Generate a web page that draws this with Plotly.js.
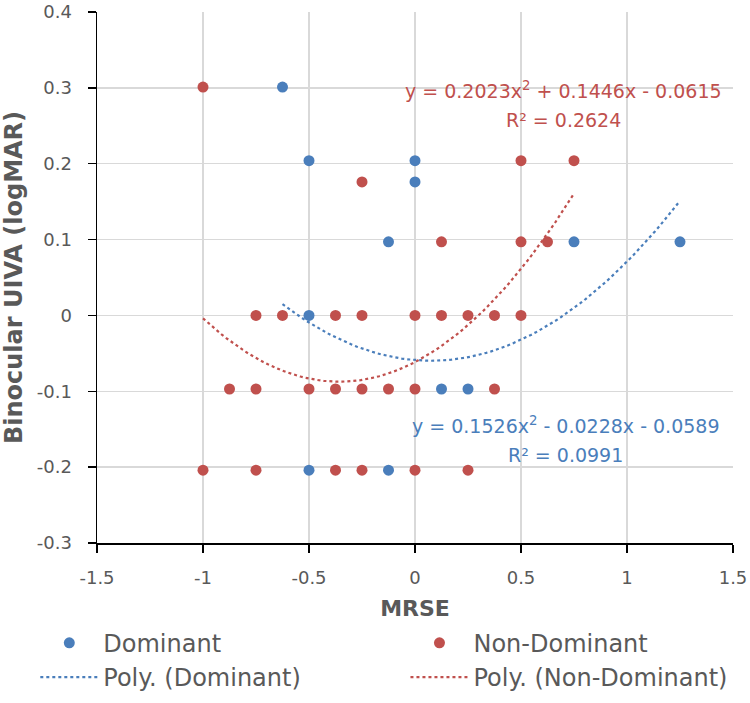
<!DOCTYPE html>
<html>
<head>
<meta charset="utf-8">
<script src="https://cdn.plot.ly/plotly-3.0.1.min.js"></script>
<style>html,body{margin:0;padding:0;background:#fff}#chart{width:750px;height:703px}</style>
</head>
<body>
<div id="chart"></div>
<script>
// Dominant eye data (MRSE, binocular UIVA logMAR)
const domX = [-0.625, -0.5, 0, 0, -0.125, 0.75, 1.25, -0.5, 0.125, 0.25, -0.5, -0.125];
const domY = [0.301, 0.204, 0.204, 0.176, 0.097, 0.097, 0.097, 0, -0.097, -0.097, -0.204, -0.204];
// Non-dominant eye data
const nonX = [-1, 0.5, 0.75, -0.25, 0.125, 0.5, 0.625,
  -0.75, -0.625, -0.375, -0.25, 0, 0.125, 0.25, 0.375, 0.5,
  -0.875, -0.75, -0.5, -0.375, -0.25, -0.125, 0, 0.375,
  -1, -0.75, -0.375, -0.25, 0, 0.25];
const nonY = [0.301, 0.204, 0.204, 0.176, 0.097, 0.097, 0.097,
  0, 0, 0, 0, 0, 0, 0, 0, 0,
  -0.097, -0.097, -0.097, -0.097, -0.097, -0.097, -0.097, -0.097,
  -0.204, -0.204, -0.204, -0.204, -0.204, -0.204];
// Trendline coefficients as printed on the chart [a, b, c] for y = a x^2 + b x + c
const domCoef = [0.1526, -0.0228, -0.0589];
const nonCoef = [0.2023, 0.1446, -0.0615];
const domR2 = "0.0991";
const nonR2 = "0.2624";
// Axis ticks
const xTickVals = [-1.5, -1, -0.5, 0, 0.5, 1, 1.5];
const xTickText = ["-1.5", "-1", "-0.5", "0", "0.5", "1", "1.5"];
const yTickVals = [-0.3, -0.2, -0.1, 0, 0.1, 0.2, 0.3, 0.4];
const yTickText = ["-0.3", "-0.2", "-0.1", "0", "0.1", "0.2", "0.3", "0.4"];

const BLUE = "#4a7ebb";
const RED = "#c0504d";
const GREY = "#595959";
const FONT = "'DejaVu Sans', sans-serif";

function trend(xs, coef) {
  const lo = Math.min(...xs), hi = Math.max(...xs);
  const n = 80, px = [], py = [];
  for (let i = 0; i <= n; i++) {
    const x = lo + (hi - lo) * i / n;
    px.push(x);
    py.push(coef[0] * x * x + coef[1] * x + coef[2]);
  }
  return {x: px, y: py};
}
function fmt(v) { return (v < 0 ? " - " : " + ") + Math.abs(v).toFixed(4); }
function eqText(coef) {
  return "y = " + coef[0].toFixed(4) + "x<sup>2</sup>" + fmt(coef[1]) + "x" + fmt(coef[2]);
}

const dT = trend(domX, domCoef), nT = trend(nonX, nonCoef);

const traces = [
  {x: domX, y: domY, mode: "markers", type: "scatter", name: "Dominant",
   marker: {color: BLUE, size: 11}, legend: "legend"},
  {x: nonX, y: nonY, mode: "markers", type: "scatter", name: "Non-Dominant",
   marker: {color: RED, size: 11}, legend: "legend2"},
  {x: dT.x, y: dT.y, mode: "lines", type: "scatter", name: "Poly. (Dominant)",
   line: {color: BLUE, width: 2.2, dash: "dot"}, legend: "legend"},
  {x: nT.x, y: nT.y, mode: "lines", type: "scatter", name: "Poly. (Non-Dominant)",
   line: {color: RED, width: 2.2, dash: "dot"}, legend: "legend2"}
];

const legendCommon = {
  orientation: "v", yref: "container", y: 0.117, yanchor: "top", xanchor: "left",
  font: {size: 24, color: GREY, family: FONT}, itemwidth: 58,
  bgcolor: "rgba(0,0,0,0)", traceorder: "normal"
};

function ann(x, y, text, color) {
  return {xref: "paper", yref: "paper", x: x, y: y, xanchor: "center", yanchor: "middle",
    text: text, showarrow: false, font: {size: 19, color: color, family: FONT}};
}

const layout = {
  width: 750, height: 703,
  margin: {l: 97, r: 17, t: 12, b: 160, autoexpand: false},
  paper_bgcolor: "#fff", plot_bgcolor: "#fff",
  font: {family: FONT, color: GREY, size: 16},
  showlegend: true,
  xaxis: {
    range: [-1.5, 1.5], tickvals: xTickVals, ticktext: xTickText,
    showgrid: true, gridcolor: "#d9d9d9", gridwidth: 1.5, zeroline: false,
    showline: true, linecolor: "#000", linewidth: 1.5,
    ticks: "outside", ticklen: 8, tickcolor: "#000", tickwidth: 1.5,
    ticklabelstandoff: 10, automargin: true,
    tickfont: {size: 18, color: GREY, family: FONT},
    title: {text: "<b>MRSE</b>", font: {size: 22, color: GREY, family: FONT}, standoff: 36}
  },
  yaxis: {
    range: [-0.3, 0.4], tickvals: yTickVals, ticktext: yTickText,
    showgrid: true, gridcolor: "#d9d9d9", gridwidth: 1.5, zeroline: false,
    showline: true, linecolor: "#000", linewidth: 1.5,
    ticks: "outside", ticklen: 8, tickcolor: "#000", tickwidth: 1.5,
    ticklabelstandoff: 12, automargin: true,
    tickfont: {size: 18, color: GREY, family: FONT},
    title: {text: "<b>Binocular UIVA (logMAR)</b>", font: {size: 24, color: GREY, family: FONT}, standoff: 8}
  },
  legend: Object.assign({}, legendCommon, {x: -0.097}),
  legend2: Object.assign({}, legendCommon, {x: 0.485}),
  annotations: [
    ann(0.733, 0.853, eqText(nonCoef), RED),
    ann(0.733, 0.797, "R² = " + nonR2, RED),
    ann(0.737, 0.222, eqText(domCoef), BLUE),
    ann(0.737, 0.166, "R² = " + domR2, BLUE)
  ]
};

Plotly.newPlot("chart", traces, layout, {displayModeBar: false, staticPlot: true});
</script>
</body>
</html>
